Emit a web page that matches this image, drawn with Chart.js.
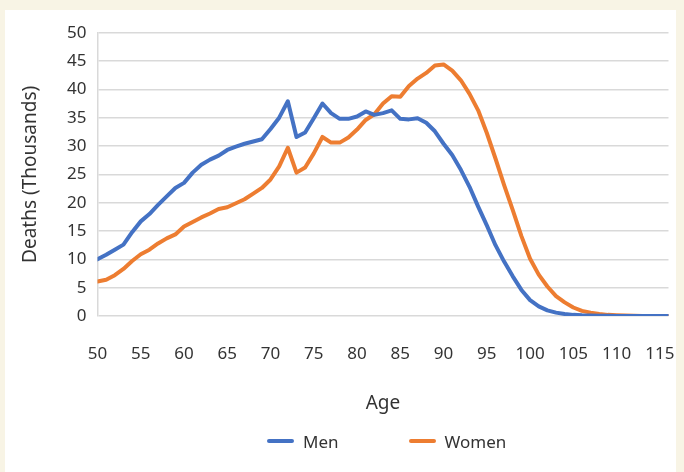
<!DOCTYPE html>
<html>
<head>
<meta charset="utf-8">
<script src="https://cdn.jsdelivr.net/npm/chart.js@4.4.0/dist/chart.umd.min.js"></script>
<style>
  html, body { margin: 0; padding: 0; background: #f8f4e5; }
  #card { position: absolute; left: 5px; top: 10px; width: 671px; height: 462px; background: #fff; }
  #chart { position: absolute; left: 0; top: 0; }
  #legend { position: absolute; left: 267px; top: 430px; height: 22px; display: flex; align-items: center;
            font: 17px "Noto Sans", sans-serif; color: #333; }
  #legend .sw { display: inline-block; width: 27px; height: 4px; border-radius: 2px; margin-right: 9px; }
  #legend .item { display: flex; align-items: center; margin-right: 70px; }
</style>
</head>
<body>
<div id="card"></div>
<canvas id="chart" width="684" height="472"></canvas>
<div id="legend"></div>
<script>
const ages = [50, 51, 52, 53, 54, 55, 56, 57, 58, 59, 60, 61, 62, 63, 64, 65, 66, 67, 68, 69,
    70, 71, 72, 73, 74, 75, 76, 77, 78, 79, 80, 81, 82, 83, 84, 85, 86, 87, 88, 89,
    90, 91, 92, 93, 94, 95, 96, 97, 98, 99, 100, 101, 102, 103, 104, 105, 106, 107, 108, 109,
    110, 111, 112, 113, 114, 115, 116];
// deaths in thousands
const men = [10.0, 10.8, 11.7, 12.6, 14.8, 16.7, 18.0, 19.6, 21.1, 22.6, 23.5, 25.3, 26.7, 27.6, 28.3, 29.3, 29.9, 30.4, 30.8, 31.2,
    33.0, 35.0, 37.9, 31.6, 32.4, 34.9, 37.5, 35.8, 34.8, 34.8, 35.2, 36.1, 35.5, 35.8, 36.3, 34.8, 34.7, 34.9, 34.1, 32.6,
    30.4, 28.4, 25.8, 22.8, 19.3, 16.0, 12.5, 9.6, 7.0, 4.6, 2.8, 1.7, 1.0, 0.6, 0.35, 0.2, 0.12, 0.08, 0.05, 0.03,
    0.02, 0.01, 0.01, 0, 0, 0, 0];
const women = [6.1, 6.4, 7.2, 8.3, 9.7, 10.9, 11.7, 12.8, 13.7, 14.4, 15.8, 16.6, 17.4, 18.1, 18.9, 19.2, 19.9, 20.6, 21.6, 22.6,
    24.1, 26.4, 29.7, 25.3, 26.2, 28.7, 31.6, 30.6, 30.6, 31.5, 32.9, 34.6, 35.6, 37.5, 38.8, 38.7, 40.6, 41.9, 42.9, 44.2,
    44.4, 43.3, 41.6, 39.2, 36.3, 32.3, 27.8, 23.1, 18.7, 14.1, 10.1, 7.3, 5.2, 3.5, 2.4, 1.5, 0.9, 0.6, 0.35, 0.2,
    0.12, 0.07, 0.04, 0.02, 0.01, 0, 0];

const series = [
    { label: 'Men', values: men, color: '#4472c4' },
    { label: 'Women', values: women, color: '#ed7d31' }
];

const font = { family: '"Noto Sans", sans-serif', size: 17 };
const titleFont = { family: '"Noto Sans", sans-serif', size: 19 };
const textColor = '#333';
const gridColor = '#d9d9d9';

new Chart(document.getElementById('chart'), {
    type: 'line',
    data: {
        datasets: series.map(s => ({
            label: s.label,
            data: ages.map((a, i) => ({ x: a, y: s.values[i] })),
            borderColor: s.color,
            backgroundColor: s.color,
            borderWidth: 4,
            pointRadius: 0,
            tension: 0,
            borderJoinStyle: 'round',
            borderCapStyle: 'round'
        }))
    },
    options: {
        responsive: false,
        animation: false,
        layout: { padding: { left: 0, top: 32.7, right: 15.5, bottom: 57.4 } },
        plugins: { legend: { display: false }, tooltip: { enabled: false } },
        scales: {
            x: {
                type: 'linear',
                min: 50,
                max: 116,
                grid: { display: false, drawTicks: false },
                border: { display: false },
                ticks: { stepSize: 5, includeBounds: false, padding: 28, color: textColor, font: font },
                title: { display: true, text: 'Age', color: textColor, font: titleFont, padding: 0 },
                afterFit: scale => {
                    scale.height = 98.6;
                    // tick padding would otherwise squeeze the plot from the sides
                    scale.paddingLeft = 0;
                    scale.paddingRight = 0;
                }
            },
            y: {
                min: 0,
                max: 50,
                grid: { color: gridColor, lineWidth: 1.5, drawTicks: false },
                border: { display: true, color: gridColor, width: 1.5 },
                ticks: { stepSize: 5, padding: 11, color: textColor, font: font },
                title: { display: true, text: 'Deaths (Thousands)', color: textColor, font: titleFont, padding: { top: 19, bottom: 0 } },
                afterFit: scale => { scale.width = 97.5; }
            }
        }
    }
});

const legend = document.getElementById('legend');
series.forEach(s => {
    const item = document.createElement('div');
    item.className = 'item';
    item.innerHTML = `<span class="sw" style="background:${s.color}"></span>${s.label}`;
    legend.appendChild(item);
});
</script>
</body>
</html>
